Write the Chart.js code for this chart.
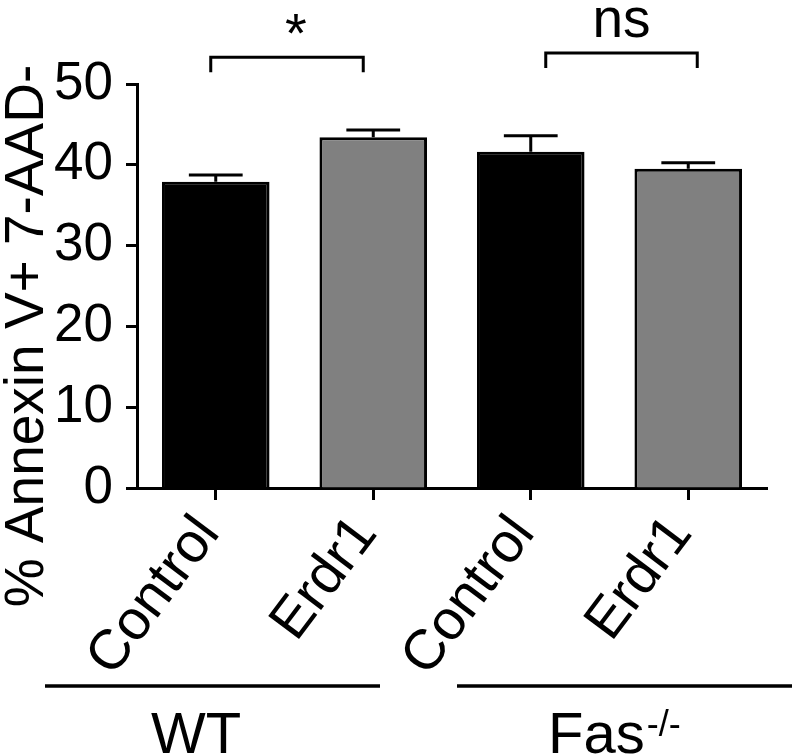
<!DOCTYPE html>
<html>
<head>
<meta charset="utf-8">
<script src="https://cdn.jsdelivr.net/npm/chart.js@4"></script>
<style>
  html, body { margin: 0; padding: 0; background: #fff; }
  canvas { display: block; }
</style>
</head>
<body>
<canvas id="apoptosisChart" width="792" height="756"></canvas>
<script>
// values
const categories = ['Control', 'Erdr1', 'Control', 'Erdr1'];
const meanValues = [37.9, 43.4, 41.6, 39.5];
const semValues = [0.85, 0.9, 2.0, 0.75];
const barColors = ['#000000', '#808080', '#000000', '#808080'];
const yTicks = [0, 10, 20, 30, 40, 50];
const groupLabels = ['WT', 'Fas'];
const groupSuperscripts = ['', '-/-'];
const comparisons = [[0, 1], [2, 3]];
const comparisonLabels = ['*', 'ns'];

const FONT = '"Liberation Sans", Arial, sans-serif';

// error bars, significance brackets, group lines and axis title
const annotate = {
    id: 'annotate',
    afterDatasetsDraw(chart) {
        const { ctx, scales: { x, y } } = chart;
        const bars = chart.getDatasetMeta(0).data;
        ctx.save();
        ctx.strokeStyle = '#000';
        ctx.fillStyle = '#000';
        ctx.lineWidth = 3;

        // upper SEM bars
        bars.forEach((bar, i) => {
            const top = y.getPixelForValue(meanValues[i] + semValues[i]);
            const half = bar.width / 4;
            ctx.beginPath();
            ctx.moveTo(bar.x, bar.y);
            ctx.lineTo(bar.x, top);
            ctx.moveTo(bar.x - half, top);
            ctx.lineTo(bar.x + half, top);
            ctx.stroke();
        });

        // brackets
        const bracketStyle = [
            { dl: -5, dr: -10, level: 53.3, drop: 15, labelSize: 56, labelBase: 52, labelDx: 9 },
            { dl: 15, dr: 9, level: 53.85, drop: 15, labelSize: 55, labelBase: 37, labelDx: 0 }
        ];
        comparisons.forEach(([a, b], i) => {
            const s = bracketStyle[i];
            const x1 = x.getPixelForValue(a) + s.dl;
            const x2 = x.getPixelForValue(b) + s.dr;
            const yy = y.getPixelForValue(s.level);
            ctx.beginPath();
            ctx.moveTo(x1, yy + s.drop);
            ctx.lineTo(x1, yy);
            ctx.lineTo(x2, yy);
            ctx.lineTo(x2, yy + s.drop);
            ctx.stroke();
            ctx.font = `${s.labelSize}px ${FONT}`;
            ctx.textAlign = 'center';
            ctx.textBaseline = 'alphabetic';
            ctx.fillText(comparisonLabels[i], (x1 + x2) / 2 + s.labelDx, s.labelBase);
        });

        // group underlines and labels
        const lineY = 686;
        const groupLines = [[45, 380], [457, 792]];
        ctx.lineWidth = 3.5;
        groupLines.forEach(([l, r]) => {
            ctx.beginPath();
            ctx.moveTo(l, lineY);
            ctx.lineTo(r, lineY);
            ctx.stroke();
        });

        ctx.textBaseline = 'alphabetic';
        ctx.font = `58px ${FONT}`;
        ctx.textAlign = 'center';
        ctx.fillText(groupLabels[0], 196, 753);

        ctx.textAlign = 'left';
        const fasLeft = 548;
        ctx.fillText(groupLabels[1], fasLeft, 753);
        const fasW = ctx.measureText(groupLabels[1]).width;
        ctx.font = `36px ${FONT}`;
        ctx.fillText(groupSuperscripts[1], fasLeft + fasW + 2, 736);

        // y axis title
        ctx.save();
        ctx.translate(43, 336);
        ctx.rotate(-Math.PI / 2);
        ctx.font = `55px ${FONT}`;
        ctx.textAlign = 'center';
        ctx.textBaseline = 'alphabetic';
        ctx.fillText('% Annexin V+ 7-AAD-', 0, 0);
        ctx.restore();

        ctx.restore();
    }
};

new Chart(document.getElementById('apoptosisChart'), {
    type: 'bar',
    data: {
        labels: categories,
        datasets: [{
            data: meanValues,
            backgroundColor: barColors,
            borderColor: '#000',
            borderWidth: 3,
            borderSkipped: 'start',
            barPercentage: 0.683,
            categoryPercentage: 1.0
        }]
    },
    options: {
        responsive: false,
        devicePixelRatio: 1,
        animation: false,
        layout: { padding: { top: 84, right: 25, bottom: 0, left: 0 } },
        plugins: {
            legend: { display: false },
            tooltip: { enabled: false }
        },
        scales: {
            x: {
                offset: true,
                ticks: {
                    color: '#000',
                    font: { family: FONT, size: 56 },
                    minRotation: 53,
                    maxRotation: 53,
                    padding: 4,
                    labelOffset: -7,
                    autoSkip: false
                },
                grid: {
                    offset: false,
                    drawOnChartArea: false,
                    tickLength: 12,
                    tickWidth: 3,
                    tickColor: '#000'
                },
                border: { display: true, color: '#000', width: 3 },
                afterFit: s => { s.height = 268; }
            },
            y: {
                min: 0,
                max: 50,
                afterBuildTicks: s => { s.ticks = yTicks.map(v => ({ value: v })); },
                ticks: {
                    color: '#000',
                    font: { family: FONT, size: 53 },
                    padding: 13
                },
                grid: {
                    drawOnChartArea: false,
                    tickLength: 11,
                    tickWidth: 3,
                    tickColor: '#000'
                },
                border: { display: true, color: '#000', width: 3 },
                afterFit: s => { s.width = 137; }
            }
        }
    },
    plugins: [annotate]
});
</script>
</body>
</html>
